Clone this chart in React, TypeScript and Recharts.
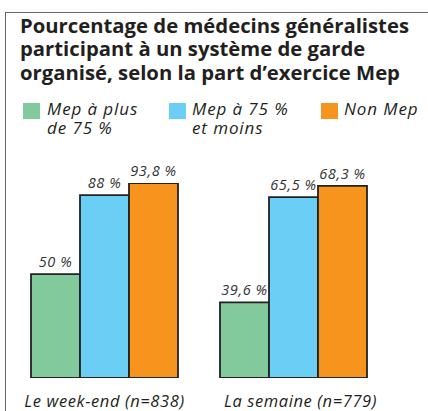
import { Bar, BarChart, LabelList, XAxis, YAxis } from "recharts";

const series = ["Mep à plus de 75 %", "Mep à 75 % et moins", "Non Mep"];
const seriesKeys = ["plus75", "moins75", "nonMep"];
const colors = ["#82c99b", "#6bcef4", "#f7941d"];

const weekendValues = [50, 88, 93.8];
const semaineValues = [39.6, 65.5, 68.3];
const categories = ["Le week-end (n=838)", "La semaine (n=779)"];
const titleLines = [
  "Pourcentage de médecins généralistes",
  "participant à un système de garde",
  "organisé, selon la part d’exercice Mep",
];

const ink = "#231f20";
const font = "'Open Sans', 'DejaVu Sans', sans-serif";

const toRow = (label: string, values: number[]) => {
  const row: Record<string, string | number> = { name: label };
  seriesKeys.forEach((key, i) => {
    row[key] = values[i];
  });
  return row;
};

const formatPct = (v: unknown) => `${String(v).replace(".", ",")} %`;

type GroupProps = {
  row: Record<string, string | number>;
  domain: [number, number];
  left: number;
  tickDx: number;
};

function Group({ row, domain, left, tickDx }: GroupProps) {
  return (
    <div style={{ position: "absolute", left, top: 150 }}>
      <BarChart
        width={200}
        height={261}
        data={[row]}
        margin={{ top: 33, right: 22, bottom: 0, left: 31 }}
        barCategoryGap={0}
        barGap={0}
      >
        <XAxis
          dataKey="name"
          axisLine={false}
          tickLine={false}
          height={33}
          tick={({ x, y, payload }: any) => (
            <text
              x={Number(x) + tickDx}
              y={Number(y) + 21}
              textAnchor="middle"
              fontFamily={font}
              fontStyle="italic"
              fontSize={16.5}
              letterSpacing={0.6}
              fill={ink}
            >
              {payload.value}
            </text>
          )}
        />
        <YAxis hide domain={domain} allowDataOverflow />
        {seriesKeys.map((key, i) => (
          <Bar
            key={key}
            dataKey={key}
            fill={colors[i]}
            stroke="#222"
            strokeWidth={1.8}
            isAnimationActive={false}
          >
            <LabelList
              dataKey={key}
              position="top"
              offset={7}
              formatter={formatPct}
              style={{
                fontFamily: font,
                fontStyle: "italic",
                fontSize: 14.5,
                letterSpacing: 0.6,
                fill: "#333",
              }}
            />
          </Bar>
        ))}
      </BarChart>
    </div>
  );
}

export default function App() {
  const legendItems = [
    { x: 23, textX: 47, lines: ["Mep à plus", "de 75 %"] },
    { x: 169, textX: 192, lines: ["Mep à 75 %", "et moins"] },
    { x: 321, textX: 344, lines: ["Non Mep"] },
  ];

  return (
    <div
      style={{
        position: "absolute",
        left: 0,
        top: 0,
        width: 428,
        height: 411,
        background: "#fff",
        overflow: "hidden",
        fontFamily: font,
        color: ink,
      }}
    >
      <div
        style={{
          position: "absolute",
          left: 5,
          top: 12,
          width: 430,
          height: 420,
          borderTop: "1.5px solid #666",
          borderLeft: "1.5px solid #666",
        }}
      />
      {titleLines.map((line, i) => (
        <div
          key={line}
          style={{
            position: "absolute",
            left: 20,
            top: 13.5 + i * 23.5,
            fontSize: 20.3,
            fontWeight: 700,
            lineHeight: "23px",
            whiteSpace: "nowrap",
          }}
        >
          {line}
        </div>
      ))}
      {legendItems.map((item, i) => (
        <div key={series[i]}>
          <div
            style={{
              position: "absolute",
              left: item.x,
              top: 103,
              width: 17,
              height: 16,
              background: colors[i],
            }}
          />
          {item.lines.map((l, j) => (
            <div
              key={l}
              style={{
                position: "absolute",
                left: item.textX,
                top: 100 + j * 19,
                fontSize: 17,
                fontStyle: "italic",
                letterSpacing: 0.9,
                lineHeight: "18px",
                whiteSpace: "nowrap",
              }}
            >
              {l}
            </div>
          ))}
        </div>
      ))}
      <Group
        row={toRow(categories[0], weekendValues)}
        domain={[0, 93.8]}
        left={0}
        tickDx={0}
      />
      <Group
        row={toRow(categories[1], semaineValues)}
        domain={[21, 69]}
        left={189}
        tickDx={7}
      />
    </div>
  );
}
